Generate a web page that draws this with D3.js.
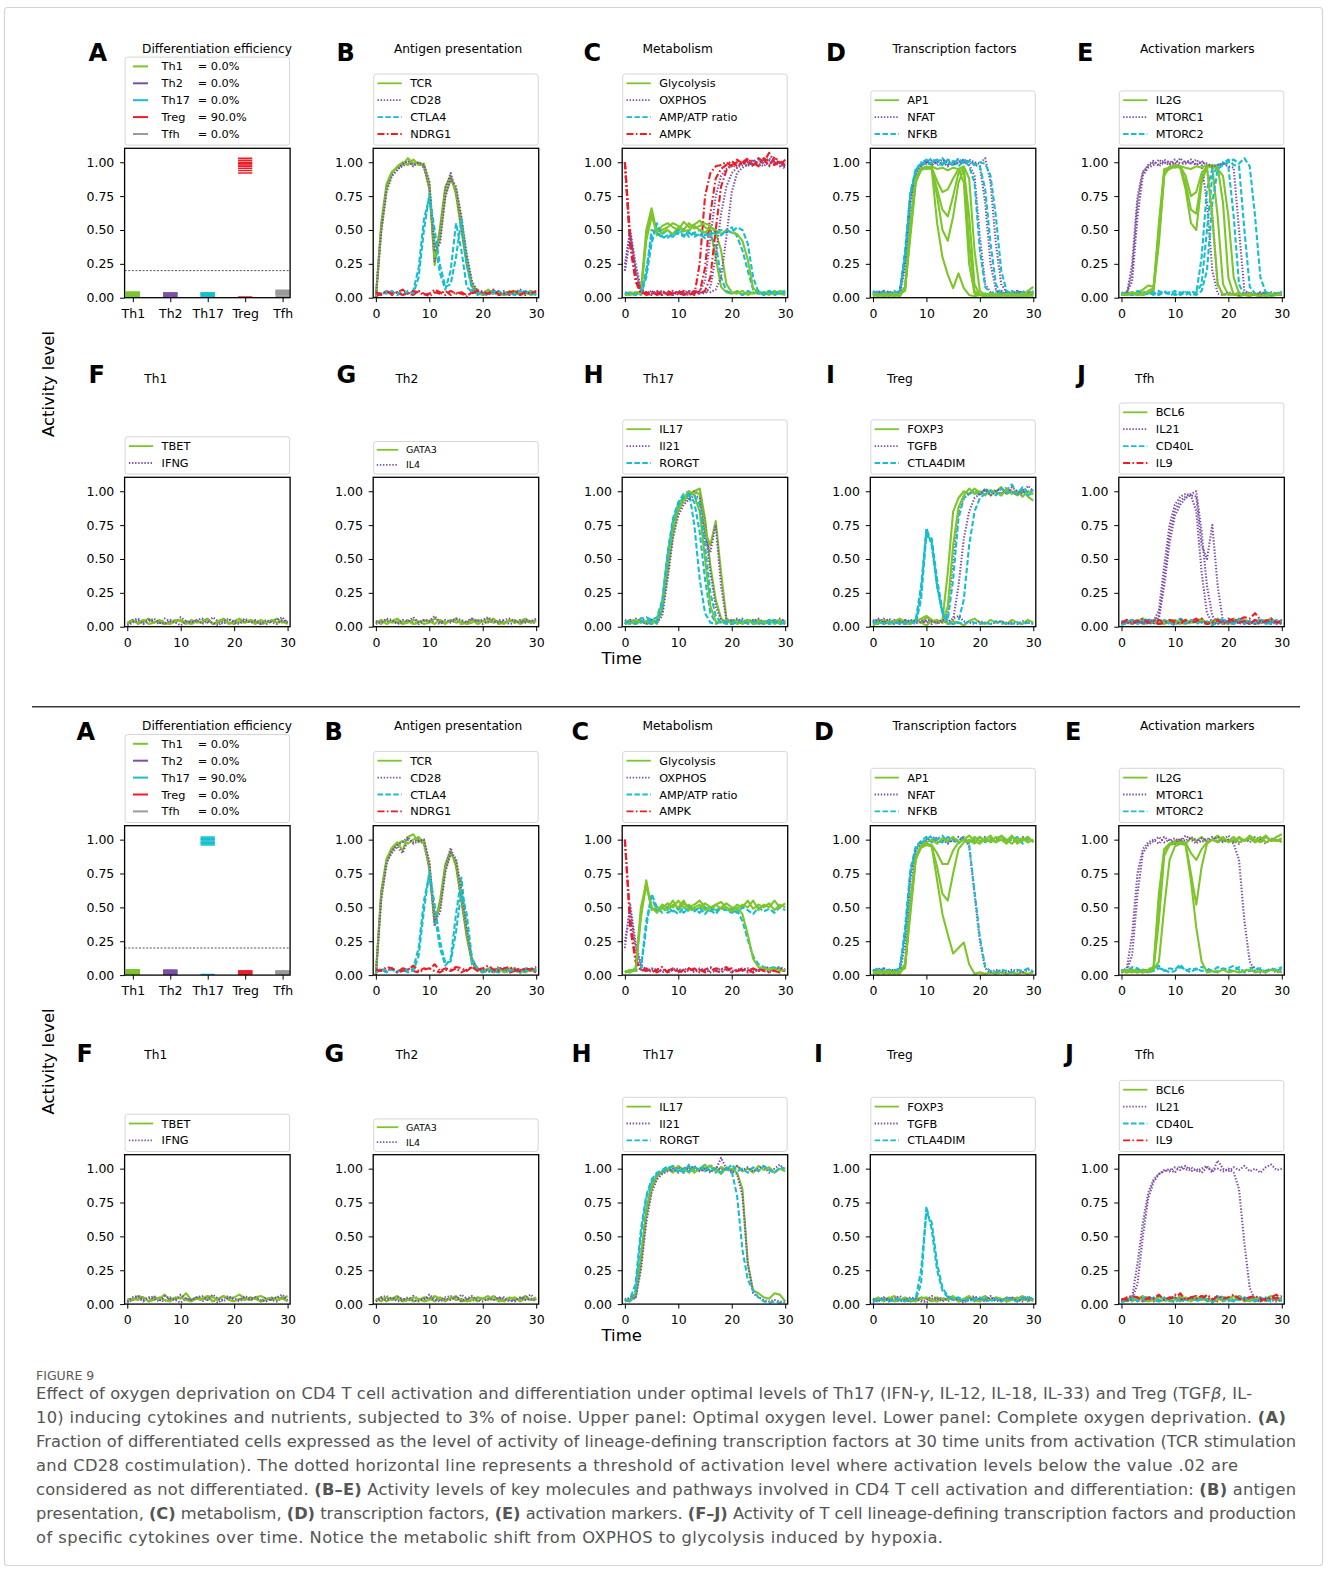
<!DOCTYPE html>
<html><head><meta charset="utf-8">
<script src="https://cdn.jsdelivr.net/npm/d3@7"></script>
<style>body{margin:0;background:#fff} svg{display:block} text{font-family:"DejaVu Sans",sans-serif}</style>
</head><body><svg id="fig" width="1328" height="1571"></svg>
<script>
// ---------------- DATA ----------------
const T = [0,1,2,3,4,5,6,7,8,9,10,11,12,13,14,15,16,17,18,19,20,21,22,23,24,25,26,27,28,29,30];
const yTicks = [0,0.25,0.5,0.75,1.0];
const tTicks = [0,10,20,30];
const cellTypes = ["Th1","Th2","Th17","Treg","Tfh"];
const upA_pct = ["0.0%","0.0%","0.0%","90.0%","0.0%"];
const loA_pct = ["0.0%","0.0%","90.0%","0.0%","0.0%"];
const threshold = 0.2;

// panel A: final activity of each of 10 cells
const upA_Th1 = [0.0,0.005,0.01,0.015,0.02,0.025,0.03,0.035,0.04,0.04];
const upA_Th2 = [0.0,0.005,0.01,0.015,0.02,0.025,0.03,0.03,0.035,0.035];
const upA_Th17 = [0.0,0.005,0.01,0.015,0.02,0.025,0.03,0.03,0.035,0.035];
const upA_Treg = [0.005,0.92,0.94,0.955,0.97,0.98,0.99,1.0,1.015,1.03];
const upA_Tfh = [0.0,0.01,0.02,0.025,0.03,0.035,0.04,0.045,0.05,0.055];
const loA_Th1 = [0.0,0.005,0.01,0.015,0.02,0.025,0.03,0.035,0.04,0.04];
const loA_Th2 = [0.0,0.005,0.01,0.015,0.02,0.025,0.03,0.03,0.035,0.035];
const loA_Th17 = [0.005,0.96,0.97,0.975,0.98,0.99,1.0,1.005,1.01,1.02];
const loA_Treg = [0.0,0.005,0.01,0.015,0.02,0.02,0.025,0.025,0.03,0.03];
const loA_Tfh = [0.0,0.005,0.01,0.015,0.02,0.02,0.025,0.025,0.03,0.03];

// background noise traces (read as low fluctuating levels)
const lo1 = [0.02,0.04,0.03,0.05,0.02,0.03,0.05,0.03,0.02,0.04,0.05,0.03,0.02,0.04,0.03,0.05,0.02,0.04,0.06,0.03,0.02,0.04,0.03,0.05,0.04,0.02,0.03,0.05,0.03,0.04,0.02];
const lo2 = [0.04,0.02,0.05,0.03,0.04,0.02,0.03,0.05,0.04,0.02,0.03,0.06,0.04,0.02,0.05,0.03,0.04,0.02,0.03,0.05,0.04,0.03,0.06,0.02,0.03,0.04,0.05,0.02,0.04,0.03,0.05];
const lo3 = [0.01,0.03,0.05,0.02,0.04,0.06,0.03,0.02,0.05,0.03,0.01,0.04,0.03,0.05,0.02,0.04,0.03,0.01,0.04,0.06,0.03,0.02,0.05,0.03,0.04,0.02,0.05,0.03,0.02,0.05,0.03];
const lo4 = [0.03,0.05,0.02,0.04,0.06,0.03,0.04,0.02,0.03,0.05,0.04,0.02,0.05,0.03,0.04,0.06,0.02,0.03,0.05,0.02,0.04,0.06,0.03,0.04,0.02,0.05,0.03,0.04,0.06,0.03,0.04];
const lo5 = [0.02,0.05,0.06,0.03,0.05,0.04,0.02,0.06,0.04,0.03,0.07,0.04,0.03,0.05,0.06,0.03,0.07,0.04,0.02,0.05,0.04,0.03,0.06,0.04,0.05,0.03,0.02,0.04,0.05,0.07,0.03];
const lo6 = [0.04,0.03,0.06,0.05,0.02,0.05,0.04,0.07,0.03,0.05,0.04,0.08,0.03,0.05,0.04,0.06,0.05,0.03,0.06,0.04,0.05,0.07,0.04,0.03,0.05,0.06,0.04,0.03,0.05,0.04,0.06];

// Upper B
const upB_TCR = [[0,0.55,0.84,0.93,0.96,0.98,1.03,0.99,1.0,0.97,0.8,0.24,0.52,0.82,0.9,0.76,0.5,0.24,0.08,0.04,0.03,0.06,0.03,0.04,0.02,0.04,0.05,0.03,0.04,0.02,0.03],
 [0,0.5,0.8,0.92,0.97,1.0,0.98,1.02,0.98,0.99,0.84,0.3,0.44,0.76,0.87,0.8,0.58,0.3,0.1,0.05,0.02,0.04,0.05,0.03,0.02,0.05,0.03,0.04,0.03,0.05,0.02]];
const upB_CD28 = [[0,0.52,0.82,0.9,0.95,0.97,1.0,0.98,0.99,0.96,0.82,0.27,0.48,0.8,0.92,0.78,0.52,0.26,0.09,0.04,0.05,0.03,0.04,0.02,0.05,0.03,0.04,0.06,0.03,0.04,0.03],
 [0,0.48,0.78,0.9,0.94,0.99,1.01,0.97,1.0,0.98,0.86,0.34,0.4,0.74,0.88,0.82,0.6,0.32,0.12,0.05,0.03,0.02,0.05,0.04,0.03,0.04,0.02,0.05,0.04,0.03,0.04]];
const upB_CTLA4 = [[0.02,0.04,0.03,0.05,0.02,0.04,0.03,0.05,0.22,0.58,0.74,0.42,0.18,0.06,0.2,0.55,0.35,0.08,0.04,0.03,0.02,0.04,0.03,0.05,0.02,0.03,0.04,0.02,0.05,0.03,0.04],
 [0.04,0.02,0.05,0.03,0.04,0.02,0.05,0.03,0.15,0.5,0.76,0.5,0.24,0.08,0.1,0.3,0.58,0.25,0.06,0.02,0.04,0.03,0.05,0.02,0.04,0.03,0.02,0.05,0.03,0.04,0.02]];
const upB_NDRG1 = [lo3, lo2];

// Lower B
const loB_TCR = [[0,0.62,0.86,0.94,0.98,0.92,1.02,1.04,0.98,1.0,0.78,0.38,0.55,0.82,0.92,0.8,0.55,0.28,0.09,0.04,0.03,0.05,0.02,0.04,0.03,0.05,0.03,0.02,0.04,0.03,0.05],
 [0,0.58,0.84,0.92,0.97,0.99,0.97,1.0,1.02,0.97,0.82,0.42,0.5,0.78,0.9,0.84,0.6,0.32,0.11,0.05,0.02,0.04,0.03,0.05,0.02,0.04,0.05,0.03,0.02,0.04,0.03]];
const loB_CD28 = [[0,0.6,0.84,0.9,0.95,0.9,1.0,0.98,1.01,0.96,0.8,0.36,0.52,0.8,0.94,0.82,0.56,0.3,0.1,0.04,0.05,0.03,0.04,0.06,0.03,0.05,0.04,0.02,0.05,0.03,0.04],
 [0,0.55,0.82,0.92,0.96,0.98,1.02,0.97,0.99,1.0,0.84,0.4,0.46,0.76,0.9,0.86,0.62,0.34,0.12,0.05,0.03,0.04,0.02,0.05,0.04,0.03,0.05,0.04,0.03,0.05,0.02]];
const loB_CTLA4 = [[0.03,0.04,0.02,0.05,0.03,0.04,0.02,0.05,0.2,0.55,0.74,0.45,0.2,0.07,0.12,0.45,0.72,0.35,0.08,0.04,0.03,0.02,0.04,0.05,0.03,0.02,0.04,0.03,0.05,0.04,0.03],
 [0.02,0.05,0.03,0.04,0.02,0.05,0.04,0.03,0.14,0.48,0.76,0.52,0.25,0.09,0.1,0.32,0.62,0.45,0.12,0.05,0.02,0.04,0.03,0.02,0.05,0.03,0.04,0.02,0.03,0.05,0.04]];
const loB_NDRG1 = [lo1, lo6];

// Upper C
const upC_Gly = [[0.02,0.03,0.02,0.05,0.5,0.66,0.48,0.53,0.55,0.52,0.5,0.56,0.52,0.54,0.57,0.52,0.5,0.3,0.08,0.04,0.03,0.05,0.02,0.04,0.03,0.05,0.02,0.04,0.03,0.05,0.04],
 [0.03,0.02,0.04,0.04,0.42,0.6,0.5,0.5,0.52,0.55,0.53,0.5,0.55,0.51,0.53,0.55,0.53,0.48,0.35,0.1,0.04,0.03,0.05,0.02,0.04,0.03,0.04,0.02,0.05,0.03,0.02],
 [0.02,0.04,0.03,0.03,0.45,0.62,0.46,0.48,0.5,0.47,0.52,0.49,0.5,0.53,0.5,0.48,0.52,0.5,0.47,0.5,0.48,0.47,0.42,0.28,0.07,0.04,0.03,0.05,0.02,0.04,0.03]];
const upC_OX = [[0.2,0.45,0.22,0.06,0.04,0.03,0.05,0.02,0.04,0.03,0.05,0.03,0.02,0.04,0.05,0.12,0.45,0.75,0.9,0.95,0.98,0.96,1.0,0.97,1.02,0.99,0.97,1.01,0.98,1.0,0.97],
 [0.25,0.5,0.25,0.07,0.03,0.05,0.02,0.04,0.03,0.05,0.02,0.04,0.05,0.03,0.04,0.03,0.08,0.3,0.62,0.82,0.92,0.96,0.98,1.0,0.97,1.02,1.0,0.98,1.03,0.99,0.95],
 [0.2,0.48,0.2,0.05,0.04,0.03,0.04,0.05,0.03,0.02,0.04,0.03,0.05,0.04,0.03,0.05,0.04,0.06,0.15,0.45,0.78,0.92,0.96,0.98,1.01,0.97,1.0,1.03,0.98,1.0,0.96]];
const upC_AMP = [[0.03,0.02,0.04,0.03,0.2,0.45,0.52,0.47,0.5,0.46,0.48,0.45,0.5,0.47,0.46,0.49,0.45,0.4,0.15,0.05,0.03,0.04,0.02,0.05,0.03,0.04,0.02,0.05,0.03,0.04,0.05],
 [0.02,0.04,0.03,0.02,0.15,0.4,0.55,0.45,0.44,0.48,0.47,0.5,0.45,0.48,0.5,0.46,0.48,0.47,0.5,0.48,0.52,0.45,0.35,0.2,0.06,0.03,0.04,0.02,0.05,0.03,0.04],
 [0.04,0.03,0.02,0.04,0.18,0.5,0.48,0.44,0.46,0.45,0.5,0.46,0.48,0.45,0.47,0.44,0.47,0.49,0.46,0.5,0.48,0.52,0.5,0.4,0.15,0.04,0.03,0.05,0.02,0.04,0.03]];
const upC_AMPK = [[1.0,0.4,0.14,0.04,0.03,0.05,0.02,0.04,0.03,0.02,0.05,0.03,0.04,0.02,0.25,0.75,0.92,0.97,0.98,1.0,0.97,1.02,0.99,1.0,0.98,1.03,1.0,1.07,1.0,0.97,1.02],
 [1.0,0.45,0.16,0.05,0.02,0.03,0.04,0.02,0.05,0.03,0.04,0.02,0.03,0.05,0.04,0.22,0.62,0.88,0.95,0.98,1.01,0.97,1.0,1.03,0.98,1.0,1.02,0.97,1.04,1.0,0.98],
 [1.0,0.38,0.12,0.03,0.04,0.02,0.03,0.05,0.02,0.04,0.03,0.05,0.02,0.04,0.03,0.05,0.15,0.5,0.82,0.94,0.98,1.0,0.98,1.02,1.0,0.97,1.03,1.0,0.98,1.01,0.99]];

// Lower C
const loC_Gly = [[0.02,0.03,0.05,0.5,0.68,0.5,0.47,0.52,0.5,0.55,0.48,0.53,0.5,0.52,0.55,0.5,0.47,0.52,0.54,0.5,0.48,0.52,0.5,0.55,0.49,0.52,0.5,0.53,0.48,0.52,0.5],
 [0.03,0.02,0.04,0.42,0.7,0.48,0.5,0.49,0.53,0.5,0.55,0.5,0.52,0.48,0.5,0.53,0.5,0.48,0.5,0.53,0.5,0.49,0.52,0.5,0.55,0.48,0.52,0.5,0.55,0.5,0.53],
 [0.02,0.04,0.03,0.45,0.66,0.5,0.46,0.5,0.48,0.52,0.5,0.55,0.48,0.5,0.52,0.48,0.5,0.52,0.49,0.5,0.47,0.5,0.45,0.3,0.12,0.06,0.05,0.04,0.05,0.03,0.04]];
const loC_OX = [[0.2,0.52,0.24,0.08,0.04,0.03,0.05,0.02,0.04,0.03,0.05,0.02,0.04,0.03,0.05,0.04,0.02,0.03,0.05,0.04,0.02,0.04,0.03,0.05,0.04,0.03,0.05,0.02,0.04,0.05,0.03],
 [0.25,0.48,0.2,0.06,0.03,0.05,0.03,0.04,0.02,0.05,0.03,0.04,0.05,0.02,0.04,0.03,0.05,0.04,0.02,0.05,0.03,0.04,0.05,0.03,0.02,0.04,0.05,0.03,0.05,0.06,0.04]];
const loC_AMP = [[0.03,0.02,0.04,0.05,0.4,0.58,0.47,0.5,0.46,0.48,0.45,0.5,0.47,0.49,0.46,0.5,0.48,0.45,0.5,0.47,0.49,0.46,0.5,0.48,0.45,0.5,0.47,0.49,0.46,0.5,0.48],
 [0.02,0.04,0.03,0.04,0.35,0.6,0.5,0.46,0.5,0.47,0.5,0.46,0.5,0.47,0.5,0.45,0.5,0.47,0.5,0.48,0.46,0.48,0.4,0.26,0.14,0.08,0.06,0.05,0.06,0.05,0.04]];
const loC_AMPK = [[1.0,0.42,0.12,0.04,0.03,0.05,0.02,0.04,0.03,0.05,0.02,0.04,0.03,0.05,0.02,0.04,0.06,0.03,0.02,0.04,0.05,0.03,0.04,0.02,0.05,0.03,0.04,0.06,0.03,0.02,0.04],
 [1.0,0.35,0.1,0.03,0.05,0.02,0.04,0.06,0.02,0.04,0.03,0.02,0.05,0.03,0.04,0.02,0.03,0.05,0.04,0.06,0.02,0.03,0.05,0.04,0.02,0.05,0.03,0.02,0.04,0.05,0.03]];

// Upper D
const upD_AP1 = [[0.02,0.03,0.01,0.03,0.02,0.03,0.08,0.55,0.88,0.95,0.96,0.95,0.55,0.3,0.17,0.07,0.18,0.07,0.02,0.01,0.02,0.01,0.02,0.01,0.02,0.01,0.02,0.02,0.01,0.02,0.01],
 [0.03,0.02,0.03,0.01,0.03,0.02,0.06,0.5,0.86,0.94,0.96,0.95,0.75,0.5,0.42,0.6,0.85,0.95,0.6,0.1,0.02,0.03,0.01,0.02,0.03,0.01,0.02,0.03,0.02,0.01,0.03],
 [0.01,0.03,0.02,0.03,0.02,0.01,0.07,0.45,0.85,0.95,0.97,0.95,0.8,0.65,0.6,0.75,0.92,0.96,0.4,0.05,0.02,0.01,0.03,0.02,0.01,0.03,0.02,0.01,0.02,0.03,0.02],
 [0.02,0.01,0.03,0.02,0.01,0.03,0.05,0.5,0.87,0.96,0.95,0.96,0.86,0.78,0.8,0.88,0.95,0.85,0.25,0.03,0.02,0.03,0.02,0.01,0.02,0.03,0.01,0.02,0.03,0.02,0.04],
 [0.03,0.02,0.01,0.02,0.03,0.02,0.06,0.55,0.88,0.95,0.96,0.97,0.95,0.96,0.94,0.96,0.95,0.97,0.88,0.35,0.05,0.02,0.01,0.03,0.02,0.02,0.03,0.02,0.01,0.05,0.08]];
const upD_NFAT = [[0.03,0.05,0.02,0.04,0.03,0.05,0.3,0.75,0.93,0.97,1.0,0.98,1.02,0.99,1.01,0.98,1.02,1.0,0.98,0.9,0.45,0.1,0.04,0.03,0.05,0.02,0.04,0.03,0.05,0.02,0.04],
 [0.04,0.02,0.05,0.03,0.04,0.02,0.22,0.7,0.92,0.98,0.99,1.02,0.98,1.0,0.97,1.01,0.99,1.02,1.0,0.98,0.97,0.7,0.25,0.06,0.03,0.05,0.02,0.04,0.03,0.05,0.03],
 [0.02,0.04,0.03,0.05,0.02,0.04,0.25,0.72,0.9,0.97,1.01,0.98,1.0,1.02,0.99,0.98,1.01,0.99,1.02,1.0,0.99,1.03,0.85,0.4,0.1,0.04,0.02,0.05,0.03,0.04,0.02]];
const upD_NFKB = [[0.04,0.03,0.05,0.02,0.04,0.03,0.35,0.78,0.95,0.99,1.02,0.98,1.0,1.03,0.98,1.01,0.99,1.02,0.97,0.85,0.35,0.08,0.03,0.05,0.02,0.04,0.03,0.05,0.02,0.04,0.03],
 [0.03,0.05,0.02,0.04,0.03,0.05,0.28,0.74,0.93,0.98,1.0,1.03,0.99,0.98,1.02,1.0,0.97,1.01,1.0,0.99,0.97,0.8,0.4,0.1,0.03,0.02,0.05,0.03,0.04,0.02,0.05],
 [0.05,0.02,0.04,0.03,0.05,0.02,0.3,0.76,0.94,1.0,0.98,1.0,1.02,0.99,1.0,0.98,1.03,0.99,1.01,0.98,1.0,0.99,0.9,0.6,0.2,0.05,0.03,0.02,0.04,0.05,0.03]];

// Lower D
const loD_AP1 = [[0.02,0.03,0.01,0.03,0.02,0.03,0.08,0.55,0.88,0.95,0.97,0.95,0.7,0.45,0.3,0.16,0.2,0.24,0.08,0.01,0.02,0.01,0.02,0.01,0.02,0.01,0.02,0.01,0.02,0.01,0.02],
 [0.03,0.02,0.03,0.01,0.03,0.02,0.06,0.5,0.86,0.94,0.96,0.95,0.8,0.6,0.55,0.75,0.93,0.98,1.0,0.97,1.02,0.99,1.0,0.98,1.03,1.0,0.97,1.01,0.99,1.02,0.98],
 [0.01,0.03,0.02,0.03,0.02,0.01,0.07,0.45,0.85,0.95,0.97,0.96,0.9,0.82,0.82,0.92,0.98,1.0,0.98,1.02,0.99,1.0,1.03,0.98,1.0,0.97,1.02,0.99,1.01,0.98,1.0],
 [0.02,0.01,0.03,0.02,0.01,0.03,0.05,0.5,0.87,0.96,0.98,1.0,0.97,1.01,0.99,1.02,0.98,1.0,1.03,0.99,0.97,1.01,0.98,1.02,1.0,0.99,1.03,0.97,1.0,1.02,0.98]];
const loD_NFAT = [[0.03,0.05,0.02,0.04,0.03,0.05,0.3,0.75,0.93,0.97,1.0,0.98,1.02,0.99,1.01,0.98,1.02,1.0,0.98,1.01,0.99,1.02,0.98,1.0,1.03,0.99,1.01,0.98,1.02,0.99,1.0],
 [0.04,0.02,0.05,0.03,0.04,0.02,0.22,0.7,0.92,0.98,0.99,1.02,0.98,1.0,0.97,1.01,0.99,1.02,0.95,0.6,0.25,0.05,0.02,0.04,0.03,0.02,0.04,0.03,0.02,0.04,0.03]];
const loD_NFKB = [[0.04,0.03,0.05,0.02,0.04,0.03,0.35,0.78,0.95,0.99,1.02,0.98,1.0,1.03,0.98,1.01,0.99,1.02,0.97,1.0,1.02,0.98,1.01,0.99,1.03,0.98,1.0,1.02,0.97,1.01,0.99],
 [0.03,0.05,0.02,0.04,0.03,0.05,0.28,0.74,0.93,0.98,1.0,1.03,0.99,0.98,1.02,1.0,0.97,1.01,0.96,0.62,0.28,0.06,0.03,0.02,0.04,0.03,0.02,0.04,0.03,0.05,0.02]];

// Upper E
const upE_IL2G = [[0.02,0.03,0.02,0.04,0.06,0.09,0.08,0.5,0.93,0.96,0.97,0.96,0.8,0.55,0.5,0.85,0.97,0.96,0.6,0.1,0.02,0.03,0.01,0.02,0.03,0.02,0.01,0.03,0.02,0.03,0.02],
 [0.03,0.02,0.03,0.02,0.03,0.04,0.05,0.4,0.9,0.97,0.96,0.97,0.9,0.75,0.78,0.92,0.97,0.98,0.97,0.7,0.15,0.02,0.03,0.02,0.01,0.03,0.02,0.03,0.01,0.02,0.03],
 [0.02,0.04,0.03,0.02,0.04,0.03,0.06,0.55,0.95,0.96,0.98,0.97,0.96,0.95,0.97,0.96,0.98,0.97,0.95,0.9,0.6,0.15,0.03,0.02,0.03,0.02,0.03,0.01,0.02,0.03,0.02],
 [0.03,0.02,0.04,0.03,0.02,0.05,0.07,0.45,0.92,0.95,0.97,0.96,0.85,0.65,0.62,0.88,0.96,0.6,0.1,0.02,0.03,0.02,0.03,0.02,0.03,0.02,0.01,0.02,0.03,0.02,0.03]];
const upE_MTORC1 = [[0.03,0.02,0.25,0.75,0.93,0.97,1.0,0.98,1.02,0.99,1.0,0.97,1.01,0.99,1.02,0.98,0.7,0.2,0.03,0.02,0.04,0.03,0.02,0.03,0.04,0.02,0.03,0.02,0.04,0.03,0.02],
 [0.02,0.04,0.12,0.6,0.9,0.96,0.98,1.02,0.99,1.01,0.98,1.03,0.99,1.0,0.98,1.01,0.97,0.6,0.1,0.02,0.03,0.02,0.04,0.02,0.03,0.02,0.04,0.03,0.02,0.03,0.04],
 [0.03,0.03,0.18,0.7,0.92,0.98,1.01,0.97,1.0,0.98,1.02,0.99,1.0,1.02,0.98,1.0,0.99,0.97,0.98,0.99,0.97,0.96,0.5,0.05,0.03,0.02,0.03,0.04,0.02,0.03,0.02]];
const upE_MTORC2 = [[0.03,0.04,0.02,0.03,0.05,0.02,0.04,0.03,0.05,0.02,0.03,0.04,0.02,0.05,0.03,0.3,0.8,0.95,0.98,1.0,0.97,0.6,0.1,0.02,0.03,0.02,0.04,0.03,0.02,0.04,0.03],
 [0.02,0.03,0.04,0.02,0.03,0.04,0.02,0.05,0.03,0.04,0.02,0.03,0.05,0.02,0.04,0.1,0.5,0.9,0.97,0.99,1.02,0.98,0.97,0.5,0.08,0.03,0.02,0.04,0.03,0.02,0.04],
 [0.04,0.02,0.03,0.05,0.02,0.03,0.04,0.02,0.04,0.03,0.05,0.02,0.04,0.03,0.02,0.05,0.2,0.7,0.95,0.98,1.0,1.02,0.99,1.03,0.97,0.6,0.15,0.04,0.02,0.03,0.04]];

// Lower E
const loE_IL2G = [[0.02,0.03,0.02,0.04,0.03,0.02,0.05,0.55,0.92,0.97,0.99,1.0,0.97,1.01,0.99,1.02,0.98,1.0,1.03,0.99,1.0,0.98,1.02,0.99,1.01,0.98,1.0,1.03,0.99,1.02,1.04],
 [0.03,0.02,0.03,0.02,0.04,0.03,0.04,0.4,0.88,0.96,0.97,0.98,0.97,0.75,0.52,0.8,0.97,1.0,0.98,1.01,0.99,1.02,0.98,1.0,1.01,0.99,1.02,0.98,1.0,0.99,1.01],
 [0.02,0.04,0.03,0.02,0.03,0.04,0.06,0.6,0.93,0.97,0.98,0.97,0.96,0.7,0.35,0.1,0.02,0.03,0.02,0.04,0.02,0.03,0.02,0.03,0.04,0.02,0.03,0.02,0.04,0.03,0.02],
 [0.03,0.02,0.04,0.03,0.02,0.03,0.04,0.1,0.5,0.85,0.95,0.97,0.98,0.9,0.85,0.93,0.98,1.0,0.99,1.02,0.98,1.0,1.01,0.99,1.03,1.0,0.98,1.02,0.99,1.0,0.98]];
const loE_MTORC1 = [[0.03,0.05,0.3,0.75,0.93,0.98,1.0,0.97,1.02,0.99,1.01,0.98,1.03,1.0,0.97,1.01,0.99,1.02,0.98,1.0,1.03,0.99,0.97,1.01,0.98,1.02,1.0,0.97,1.01,0.99,1.0],
 [0.02,0.03,0.15,0.6,0.9,0.96,0.99,1.02,0.98,1.0,0.97,1.01,0.99,1.02,1.0,0.98,1.01,0.99,1.02,0.98,1.0,0.97,0.85,0.4,0.1,0.03,0.02,0.03,0.04,0.02,0.03]];
const loE_MTORC2 = [lo6, lo2];

// F, G (no differentiation)
const upF_TBET = [lo4, lo1], upF_IFNG = [lo5, lo3];
const upG_GATA3 = [lo2, lo4], upG_IL4 = [lo1, lo6];
const loF_TBET = [lo6, lo1], loF_IFNG = [lo3, lo5];
const loG_GATA3 = [lo4, lo2], loG_IL4 = [lo5, lo1];

// Upper H
const upH_IL17 = [[0.03,0.05,0.02,0.04,0.03,0.05,0.02,0.15,0.45,0.72,0.88,0.95,0.98,1.0,1.02,0.8,0.45,0.2,0.06,0.03,0.05,0.02,0.04,0.03,0.05,0.02,0.04,0.03,0.05,0.02,0.04],
 [0.02,0.04,0.03,0.05,0.02,0.04,0.03,0.12,0.4,0.68,0.86,0.93,0.97,0.99,0.98,0.7,0.6,0.78,0.4,0.06,0.03,0.05,0.02,0.04,0.03,0.05,0.02,0.04,0.03,0.05,0.02],
 [0.04,0.02,0.05,0.03,0.04,0.02,0.05,0.18,0.5,0.75,0.9,0.95,1.0,0.97,0.85,0.5,0.15,0.04,0.03,0.05,0.02,0.04,0.03,0.05,0.02,0.04,0.03,0.05,0.02,0.04,0.03]];
const upH_Il21 = [[0.02,0.05,0.03,0.06,0.04,0.03,0.05,0.1,0.4,0.7,0.85,0.92,0.95,1.0,0.98,0.75,0.4,0.15,0.05,0.03,0.05,0.04,0.06,0.03,0.05,0.04,0.02,0.05,0.03,0.06,0.04],
 [0.05,0.03,0.06,0.04,0.02,0.05,0.03,0.08,0.35,0.65,0.82,0.9,0.94,0.97,0.95,0.65,0.55,0.75,0.3,0.05,0.04,0.06,0.03,0.05,0.04,0.06,0.03,0.05,0.04,0.03,0.05]];
const upH_RORGT = [[0.02,0.04,0.03,0.06,0.07,0.05,0.07,0.2,0.55,0.8,0.92,0.98,1.0,0.75,0.35,0.1,0.03,0.02,0.04,0.03,0.02,0.04,0.03,0.05,0.02,0.03,0.04,0.02,0.03,0.05,0.02],
 [0.03,0.02,0.04,0.03,0.05,0.04,0.03,0.15,0.5,0.75,0.9,0.95,0.97,0.92,0.7,0.35,0.1,0.03,0.04,0.02,0.03,0.05,0.02,0.04,0.03,0.02,0.04,0.03,0.05,0.02,0.03],
 [0.04,0.03,0.02,0.04,0.03,0.02,0.04,0.18,0.52,0.78,0.9,0.96,0.98,0.97,0.9,0.6,0.25,0.08,0.03,0.04,0.02,0.03,0.05,0.02,0.04,0.03,0.02,0.05,0.03,0.04,0.02]];

// Upper I
const upI_FOXP3 = [[0.04,0.02,0.05,0.03,0.04,0.02,0.05,0.03,0.04,0.06,0.08,0.05,0.03,0.05,0.4,0.85,0.95,1.0,0.98,1.02,0.99,1.01,0.97,1.0,1.03,0.98,1.0,0.97,1.01,0.96,0.93],
 [0.03,0.05,0.02,0.04,0.03,0.05,0.02,0.04,0.05,0.03,0.07,0.04,0.05,0.03,0.15,0.6,0.88,0.97,1.02,0.98,1.0,0.97,1.01,0.99,0.97,1.02,0.98,1.0,0.96,1.0,0.98],
 lo3];
const upI_TGFB = [[0.05,0.03,0.06,0.04,0.03,0.05,0.04,0.02,0.05,0.03,0.04,0.02,0.05,0.03,0.1,0.5,0.85,0.95,0.98,1.0,0.97,1.02,0.99,1.01,0.98,1.03,1.0,0.97,1.02,0.99,1.01],
 [0.03,0.06,0.04,0.02,0.05,0.03,0.05,0.04,0.02,0.05,0.03,0.04,0.02,0.04,0.03,0.05,0.3,0.65,0.85,0.95,0.98,1.01,0.97,1.0,1.02,0.98,1.03,1.0,0.98,1.04,1.0],
 [0.04,0.05,0.03,0.06,0.02,0.04,0.03,0.05,0.04,0.03,0.05,0.04,0.03,0.05,0.04,0.06,0.08,0.04,0.03,0.02,0.04,0.03,0.02,0.03,0.04,0.02,0.03,0.02,0.04,0.03,0.02]];
const upI_CTLA4DIM = [[0.03,0.02,0.04,0.03,0.02,0.04,0.03,0.02,0.05,0.3,0.7,0.65,0.35,0.12,0.05,0.35,0.8,0.95,0.98,1.0,0.97,1.02,0.99,1.0,0.97,1.01,1.05,0.98,1.0,0.97,0.99],
 [0.02,0.04,0.03,0.02,0.04,0.03,0.02,0.04,0.03,0.25,0.73,0.6,0.3,0.1,0.02,0.02,0.04,0.2,0.6,0.85,0.95,0.98,1.0,0.97,1.02,0.99,1.0,0.98,1.03,0.99,1.01],
 [0.03,0.04,0.02,0.03,0.04,0.02,0.03,0.04,0.02,0.2,0.68,0.62,0.3,0.1,0.03,0.02,0.03,0.02,0.04,0.03,0.02,0.03,0.02,0.04,0.02,0.03,0.02,0.03,0.02,0.03,0.02]];

// Upper J
const upJ_BCL6 = [lo1, lo4];
const upJ_IL21 = [[0.02,0.04,0.03,0.05,0.02,0.04,0.03,0.08,0.35,0.68,0.86,0.93,0.96,0.98,1.0,0.7,0.3,0.08,0.03,0.02,0.04,0.03,0.05,0.02,0.04,0.03,0.02,0.05,0.03,0.04,0.02],
 [0.03,0.02,0.05,0.03,0.04,0.02,0.05,0.06,0.3,0.62,0.82,0.9,0.95,0.97,0.96,0.6,0.5,0.75,0.3,0.04,0.03,0.02,0.04,0.03,0.02,0.05,0.03,0.04,0.02,0.03,0.04],
 [0.04,0.03,0.02,0.04,0.03,0.05,0.04,0.12,0.45,0.75,0.9,0.96,0.98,0.97,0.85,0.4,0.1,0.03,0.02,0.04,0.03,0.05,0.02,0.04,0.03,0.02,0.04,0.03,0.05,0.02,0.03]];
const upJ_CD40L = [lo2, lo3];
const upJ_IL9 = [[0.02,0.04,0.05,0.03,0.06,0.04,0.02,0.05,0.03,0.04,0.02,0.05,0.03,0.04,0.06,0.03,0.02,0.04,0.05,0.03,0.06,0.04,0.05,0.07,0.06,0.1,0.05,0.04,0.06,0.03,0.05], lo4];

// Lower H
const loH_IL17 = [[0.03,0.02,0.08,0.35,0.7,0.88,0.95,0.98,1.0,0.97,1.02,0.99,1.01,0.97,1.0,1.03,0.98,1.0,0.96,1.01,0.99,1.02,0.98,1.0,0.97,1.02,0.99,1.01,0.97,1.0,0.98],
 [0.02,0.03,0.05,0.3,0.65,0.85,0.94,0.97,0.99,1.02,0.98,1.0,0.97,1.01,0.99,1.0,1.02,0.98,1.01,0.99,1.0,0.97,0.85,0.3,0.1,0.08,0.05,0.04,0.08,0.07,0.02]];
const loH_Il21 = [[0.04,0.03,0.05,0.3,0.65,0.85,0.94,0.97,1.0,0.98,1.01,0.97,1.02,0.99,1.0,0.98,1.03,0.99,1.08,1.0,0.97,1.02,0.99,1.01,0.98,1.0,1.02,0.97,1.0,1.03,0.99],
 [0.03,0.05,0.04,0.25,0.6,0.82,0.92,0.96,0.98,1.0,0.97,1.01,0.99,1.02,0.98,1.0,0.97,1.01,0.99,1.0,0.98,0.96,0.8,0.3,0.08,0.05,0.03,0.02,0.03,0.02,0.01]];
const loH_RORGT = [[0.02,0.04,0.15,0.55,0.8,0.92,0.97,0.99,1.02,0.98,1.0,0.97,1.03,0.99,1.0,0.98,1.02,0.97,1.01,0.99,1.03,0.98,1.0,0.97,1.01,0.98,1.02,0.99,0.97,1.01,1.0],
 [0.03,0.02,0.1,0.5,0.78,0.9,0.96,0.98,1.0,1.02,0.97,1.0,0.98,1.01,0.99,1.02,0.98,1.0,0.97,1.0,0.98,0.8,0.4,0.18,0.1,0.05,0.02,0.01,0.02,0.01,0.02]];

// Lower I
const loI_FOXP3 = [lo4, lo1];
const loI_TGFB = [lo3, lo2];
const loI_CTLA4DIM = [[0.03,0.02,0.04,0.03,0.02,0.04,0.03,0.02,0.04,0.25,0.68,0.6,0.3,0.12,0.06,0.04,0.05,0.03,0.02,0.04,0.03,0.05,0.02,0.04,0.03,0.02,0.04,0.03,0.05,0.02,0.04],
 [0.02,0.04,0.03,0.02,0.04,0.03,0.02,0.04,0.03,0.15,0.72,0.55,0.25,0.1,0.05,0.03,0.04,0.02,0.04,0.03,0.05,0.02,0.03,0.04,0.02,0.05,0.03,0.02,0.04,0.06,0.03]];

// Lower J
const loJ_BCL6 = [lo4, lo2];
const loJ_IL21 = [[0.02,0.03,0.05,0.3,0.6,0.82,0.92,0.96,0.98,1.0,0.97,1.02,0.99,1.01,0.98,1.0,1.02,0.97,1.06,1.0,0.98,1.01,0.99,1.02,0.98,1.0,0.97,1.01,1.03,0.99,1.0],
 [0.03,0.02,0.04,0.15,0.5,0.78,0.9,0.96,0.99,0.98,1.01,0.99,1.02,0.98,1.0,0.97,1.01,0.99,1.0,0.98,1.0,0.97,0.85,0.45,0.12,0.03,0.02,0.04,0.03,0.02,0.03]];
const loJ_CD40L = [lo1, lo3];
const loJ_IL9 = [lo5, lo6];

// ---------------- STYLE / LAYOUT ----------------
const GRN='#7cc52b', PUR='#7d4fa6', CYN='#17becf', RED='#ee1c25', GRY='#9a9a9a';
const DASH = {solid:null, dot:'1.4,1.7', dash:'5.5,2.4', dashdot:'7,2.4,1.6,2.4'};
const W=165.5, H=149.4;
const colLeft=[124.6,373.2,622.2,870.3,1118.8];
const rowTop=[148.3,477.3];
const setDY={up:0, lo:677.4};
const letterX=[88.6,336.4,583.5,826,1077];
const letterDX={up:0, lo:-12};
const letterBase=[60.7,382.7], letterDY={up:0, lo:679};
const titleX=[[142,394,642.4,892.4,1140],[144.3,395.4,643.3,887,1135]];
const titleBase=[53.3,382.7], titleDY={up:0, lo:676.6};

function S(name,color,style,reps){return {name,color,style,reps};}
function timePanels(set, d){
  return [
   {set,row:0,col:1,letter:'B',title:'Antigen presentation',series:[S('TCR',GRN,'solid',d.B[0]),S('CD28',PUR,'dot',d.B[1]),S('CTLA4',CYN,'dash',d.B[2]),S('NDRG1',RED,'dashdot',d.B[3])]},
   {set,row:0,col:2,letter:'C',title:'Metabolism',series:[S('Glycolysis',GRN,'solid',d.C[0]),S('OXPHOS',PUR,'dot',d.C[1]),S('AMP/ATP ratio',CYN,'dash',d.C[2]),S('AMPK',RED,'dashdot',d.C[3])]},
   {set,row:0,col:3,letter:'D',title:'Transcription factors',series:[S('AP1',GRN,'solid',d.D[0]),S('NFAT',PUR,'dot',d.D[1]),S('NFKB',CYN,'dash',d.D[2])]},
   {set,row:0,col:4,letter:'E',title:'Activation markers',series:[S('IL2G',GRN,'solid',d.E[0]),S('MTORC1',PUR,'dot',d.E[1]),S('MTORC2',CYN,'dash',d.E[2])]},
   {set,row:1,col:0,letter:'F',title:'Th1',series:[S('TBET',GRN,'solid',d.F[0]),S('IFNG',PUR,'dot',d.F[1])]},
   {set,row:1,col:1,letter:'G',title:'Th2',small:true,series:[S('GATA3',GRN,'solid',d.G[0]),S('IL4',PUR,'dot',d.G[1])]},
   {set,row:1,col:2,letter:'H',title:'Th17',series:[S('IL17',GRN,'solid',d.H[0]),S('Il21',PUR,'dot',d.H[1]),S('RORGT',CYN,'dash',d.H[2])]},
   {set,row:1,col:3,letter:'I',title:'Treg',series:[S('FOXP3',GRN,'solid',d.I[0]),S('TGFB',PUR,'dot',d.I[1]),S('CTLA4DIM',CYN,'dash',d.I[2])]},
   {set,row:1,col:4,letter:'J',title:'Tfh',series:[S('BCL6',GRN,'solid',d.J[0]),S('IL21',PUR,'dot',d.J[1]),S('CD40L',CYN,'dash',d.J[2]),S('IL9',RED,'dashdot',d.J[3])]}
  ];
}
const subplots = [
  {set:'up',row:0,col:0,letter:'A',title:'Differentiation efficiency',bar:true,pct:upA_pct,cells:[upA_Th1,upA_Th2,upA_Th17,upA_Treg,upA_Tfh]},
  ...timePanels('up',{B:[upB_TCR,upB_CD28,upB_CTLA4,upB_NDRG1],C:[upC_Gly,upC_OX,upC_AMP,upC_AMPK],D:[upD_AP1,upD_NFAT,upD_NFKB],E:[upE_IL2G,upE_MTORC1,upE_MTORC2],F:[upF_TBET,upF_IFNG],G:[upG_GATA3,upG_IL4],H:[upH_IL17,upH_Il21,upH_RORGT],I:[upI_FOXP3,upI_TGFB,upI_CTLA4DIM],J:[upJ_BCL6,upJ_IL21,upJ_CD40L,upJ_IL9]}),
  {set:'lo',row:0,col:0,letter:'A',title:'Differentiation efficiency',bar:true,pct:loA_pct,cells:[loA_Th1,loA_Th2,loA_Th17,loA_Treg,loA_Tfh]},
  ...timePanels('lo',{B:[loB_TCR,loB_CD28,loB_CTLA4,loB_NDRG1],C:[loC_Gly,loC_OX,loC_AMP,loC_AMPK],D:[loD_AP1,loD_NFAT,loD_NFKB],E:[loE_IL2G,loE_MTORC1,loE_MTORC2],F:[loF_TBET,loF_IFNG],G:[loG_GATA3,loG_IL4],H:[loH_IL17,loH_Il21,loH_RORGT],I:[loI_FOXP3,loI_TGFB,loI_CTLA4DIM],J:[loJ_BCL6,loJ_IL21,loJ_CD40L,loJ_IL9]})
];

// ---------------- DRAW ----------------
const svg = d3.select('#fig');
svg.append('rect').attr('x',4.5).attr('y',7.5).attr('width',1318).attr('height',1558).attr('rx',3)
  .attr('fill','#fff').attr('stroke','#d4d4d4').attr('stroke-width',1.2);
const defs = svg.append('defs');

function styleAxis(g){
  g.select('.domain').remove();
  g.selectAll('.tick line').attr('stroke','#000').attr('stroke-width',1);
  g.selectAll('.tick text').attr('font-family','"DejaVu Sans",sans-serif').attr('font-size',12.5).attr('fill','#000');
}

function drawLegend(sp, x0, y0axis){
  const small = !!sp.small;
  const items = sp.bar ? cellTypes.map((c,i)=>({name:c,color:[GRN,PUR,CYN,RED,GRY][i],style:'solid',pct:sp.pct[i]})) : sp.series;
  const n = items.length;
  const sp_h = small ? 15 : 16.9;
  const fs = small ? 9.5 : 11.3;
  const bottom = y0axis - 3.2;
  const top = bottom - (n*sp_h + (small?2.6:3.5));
  const g = svg.append('g');
  g.append('rect').attr('x',x0+0.5).attr('y',top).attr('width',W-1).attr('height',bottom-top).attr('rx',2.5)
    .attr('fill','#fff').attr('fill-opacity',0.85).attr('stroke','#d6d6d6').attr('stroke-width',1);
  items.forEach((it,i)=>{
    const cy = top + (small?8.3:9.3) + i*sp_h;
    const hx0 = sp.bar ? x0+8.4 : x0+(small?3.6:4.3);
    const hx1 = sp.bar ? x0+23.4 : x0+(small?25:28.6);
    g.append('line').attr('x1',hx0).attr('x2',hx1).attr('y1',cy).attr('y2',cy)
      .attr('stroke',it.color).attr('stroke-width',sp.bar?2:1.8).attr('stroke-dasharray',DASH[it.style]);
    const t = g.append('text').attr('x',x0+(small?32.8:37)).attr('y',cy+fs*0.36).attr('font-size',fs).attr('fill','#000');
    if(sp.bar){
      t.append('tspan').text(it.name);
      t.append('tspan').attr('x',x0+69.5).text(' = '+it.pct);
    } else t.text(it.name);
  });
}

subplots.forEach(sp=>{
  const dy = setDY[sp.set];
  const x0 = colLeft[sp.col], y0 = rowTop[sp.row]+dy;
  const y = d3.scaleLinear().domain([0,1.103]).range([y0+H,y0]);
  svg.append('text').attr('x',letterX[sp.col]+letterDX[sp.set]).attr('y',letterBase[sp.row]+letterDY[sp.set])
    .attr('font-family','"Liberation Sans",Arial,sans-serif').attr('font-weight','bold').attr('font-size',24).text(sp.letter);
  svg.append('text').attr('x',titleX[sp.row][sp.col]).attr('y',titleBase[sp.row]+titleDY[sp.set])
    .attr('font-size',12.2).attr('fill','#000').text(sp.title);
  drawLegend(sp, x0, y0);
  const clipId = 'clip_'+sp.set+sp.letter;
  defs.append('clipPath').attr('id',clipId).append('rect').attr('x',x0).attr('y',y0).attr('width',W).attr('height',H);
  const plot = svg.append('g').attr('clip-path',`url(#${clipId})`);
  let x;
  if(sp.bar){
    x = d3.scaleLinear().domain([-0.22,4.2]).range([x0,x0+W]);
    plot.append('line').attr('x1',x0).attr('x2',x0+W).attr('y1',y(threshold)).attr('y2',y(threshold))
      .attr('stroke','#555').attr('stroke-width',1).attr('stroke-dasharray','2,1.6');
    sp.cells.forEach((vals,ci)=>{
      const col=[GRN,PUR,CYN,RED,GRY][ci];
      vals.forEach(v=>{
        plot.append('line').attr('x1',x(ci-0.19)).attr('x2',x(ci+0.19)).attr('y1',y(v)).attr('y2',y(v))
          .attr('stroke',col).attr('stroke-width',1.5);
      });
    });
    const xa = svg.append('g').attr('transform',`translate(0,${y0+H})`)
      .call(d3.axisBottom(x).tickValues([0,1,2,3,4]).tickFormat(i=>cellTypes[i]).tickSize(4.5).tickPadding(6.8));
    styleAxis(xa);
  } else {
    x = d3.scaleLinear().domain([-0.5,30.47]).range([x0,x0+W]);
    const line = d3.line().x((d,i)=>x(T[i])).y(d=>y(d));
    const maxR = d3.max(sp.series,s=>s.reps.length);
    for(let r=0;r<maxR;r++){
      sp.series.forEach(s=>{
        if(r<s.reps.length) plot.append('path').attr('d',line(s.reps[r])).attr('fill','none')
          .attr('stroke',s.color).attr('stroke-width',2.1).attr('stroke-linejoin','round')
          .attr('stroke-dasharray',DASH[s.style]);
      });
    }
    const xa = svg.append('g').attr('transform',`translate(0,${y0+H})`)
      .call(d3.axisBottom(x).tickValues(tTicks).tickFormat(d3.format('d')).tickSize(4.5).tickPadding(6.8));
    styleAxis(xa);
  }
  const ya = svg.append('g').attr('transform',`translate(${x0},0)`)
    .call(d3.axisLeft(y).tickValues(yTicks).tickFormat(d3.format('.2f')).tickSize(4.5).tickPadding(5.8));
  styleAxis(ya);
  svg.append('rect').attr('x',x0).attr('y',y0).attr('width',W).attr('height',H)
    .attr('fill','none').attr('stroke','#000').attr('stroke-width',1.3);
});

['up','lo'].forEach(set=>{
  const dy=setDY[set];
  svg.append('text').attr('transform',`translate(54,${384+dy}) rotate(-90)`).attr('text-anchor','middle')
    .attr('font-size',16.5).text('Activity level');
  svg.append('text').attr('x',601.5).attr('y',664+dy).attr('font-size',16.5).text('Time');
});
svg.append('line').attr('x1',32).attr('x2',1300).attr('y1',706.7).attr('y2',706.7).attr('stroke','#3a3a3a').attr('stroke-width',1.4);

// caption
svg.append('text').attr('x',36).attr('y',1380).attr('font-family','"Noto Sans",sans-serif').attr('font-size',12.5)
  .attr('fill','#5a5a5a').text('FIGURE 9');
const capLines = [
 [['Effect of oxygen deprivation on CD4 T cell activation and differentiation under optimal levels of Th17 (IFN-'],['γ','i'],[', IL-12, IL-18, IL-33) and Treg (TGF'],['β','i'],[', IL-']],
 [['10) inducing cytokines and nutrients, subjected to 3% of noise. Upper panel: Optimal oxygen level. Lower panel: Complete oxygen deprivation. '],['(A)','b']],
 [['Fraction of differentiated cells expressed as the level of activity of lineage-defining transcription factors at 30 time units from activation (TCR stimulation']],
 [['and CD28 costimulation). The dotted horizontal line represents a threshold of activation level where activation levels below the value .02 are']],
 [['considered as not differentiated. '],['(B–E)','b'],[' Activity levels of key molecules and pathways involved in CD4 T cell activation and differentiation: '],['(B)','b'],[' antigen']],
 [['presentation, '],['(C)','b'],[' metabolism, '],['(D)','b'],[' transcription factors, '],['(E)','b'],[' activation markers. '],['(F–J)','b'],[' Activity of T cell lineage-defining transcription factors and production']],
 [['of specific cytokines over time. Notice the metabolic shift from OXPHOS to glycolysis induced by hypoxia.']]
];
const capEnds = [1252,1286,1296,1238,1296,1296,943];
capLines.forEach((segs,i)=>{
  const t = svg.append('text').attr('x',36).attr('y',1399+i*24).attr('font-family','"Noto Sans",sans-serif')
    .attr('font-size',16.3).attr('fill','#555').attr('textLength',capEnds[i]-36).attr('lengthAdjust','spacing');
  segs.forEach(s=>{
    const ts = t.append('tspan').text(s[0]);
    if(s[1]==='b') ts.attr('font-weight','bold');
    if(s[1]==='i') ts.attr('font-style','italic');
  });
});
</script></body></html>
